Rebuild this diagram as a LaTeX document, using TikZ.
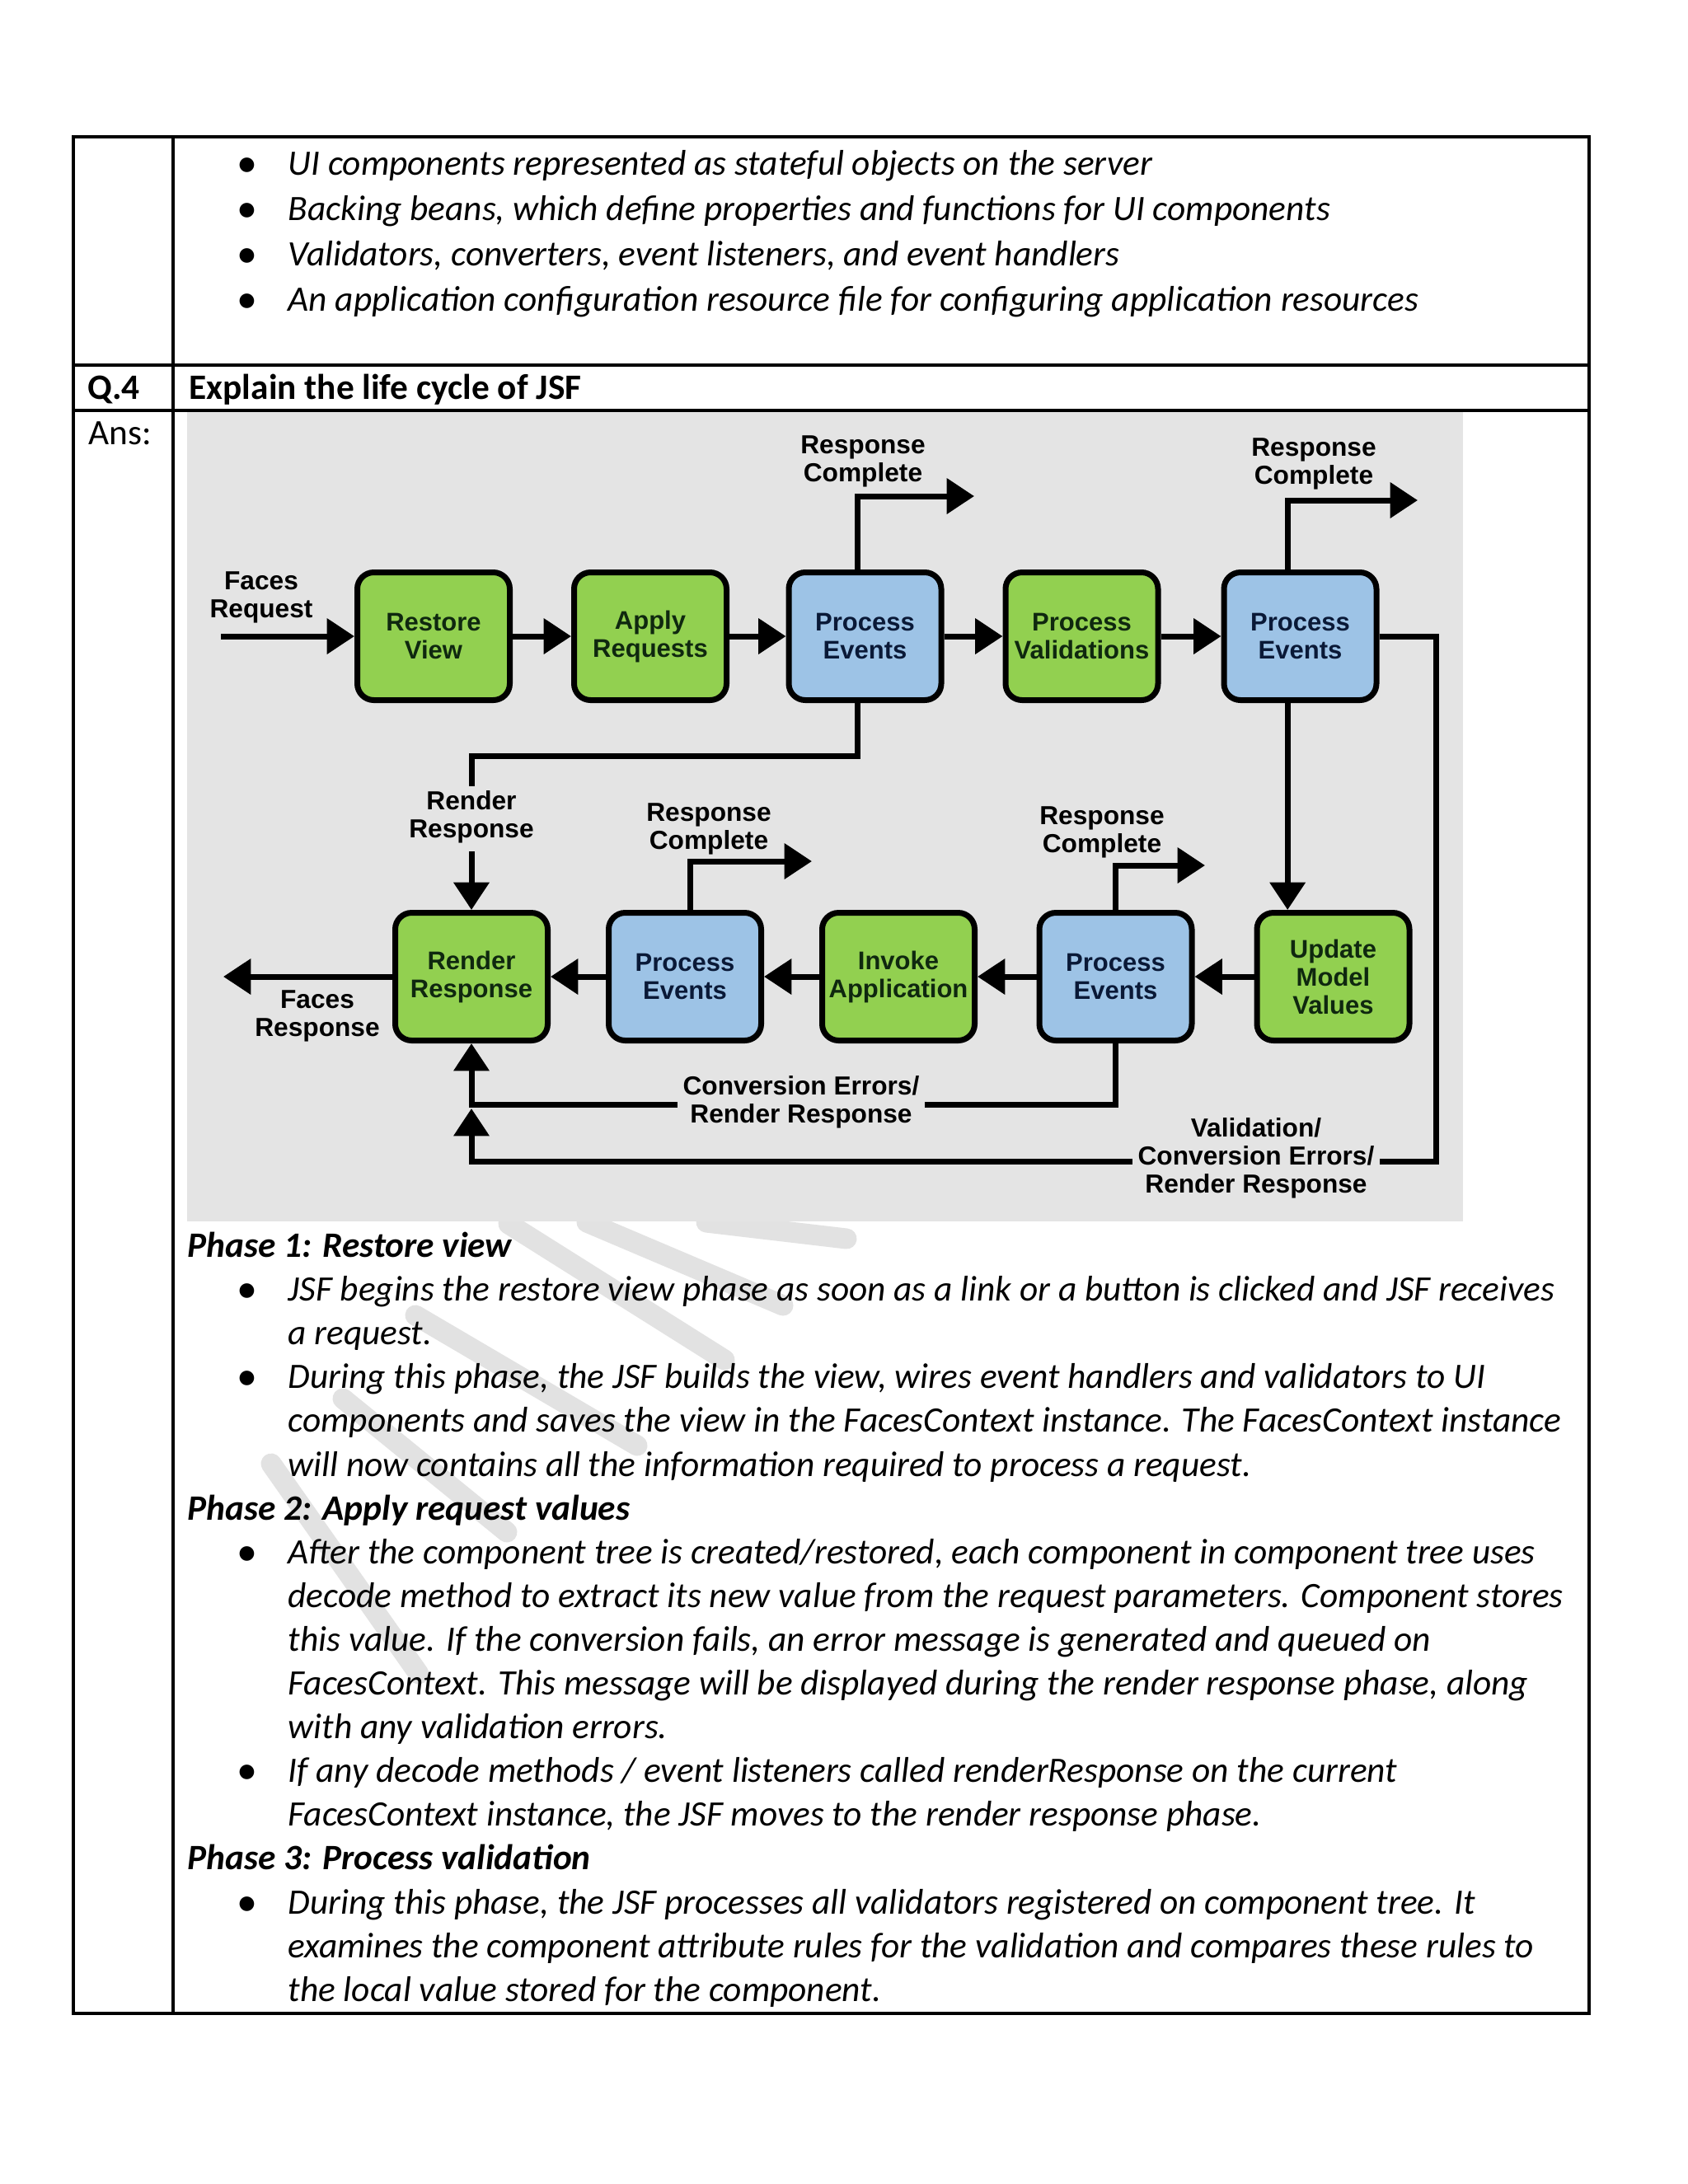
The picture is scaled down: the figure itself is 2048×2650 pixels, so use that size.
\documentclass[tikz,border=0pt]{standalone}
\usepackage{fontspec}
\setmainfont{Carlito}
\newfontfamily\arialf{Liberation Sans}
\usetikzlibrary{arrows.meta}
\definecolor{bggray}{RGB}{228,228,228}
\definecolor{boxgreen}{RGB}{146,208,80}
\definecolor{boxblue}{RGB}{157,195,230}
\definecolor{txtgreen}{RGB}{15,40,15}
\definecolor{txtblue}{RGB}{10,25,55}
\definecolor{wmgray}{RGB}{226,226,226}
\tikzset{
  phasebox/.style={draw=black, line width=2.1pt, rounded corners=6pt, minimum width=55.5pt, minimum height=46.5pt, inner sep=0pt, align=center, font=\arialf\bfseries\fontsize{9.3}{10.2}\selectfont},
  gphase/.style={phasebox, fill=boxgreen, text=txtgreen},
  bphase/.style={phasebox, fill=boxblue, text=txtblue},
  lbl/.style={align=center, inner sep=2pt, font=\arialf\bfseries\fontsize{9.5}{10.2}\selectfont},
  conn/.style={line width=2.1pt},
  arr/.style={conn, -{Triangle[length=10pt,width=12.6pt]}},
  bodyline/.style={anchor=mid west, inner sep=0pt, font=\fontsize{13}{15}\selectfont\itshape},
  headline/.style={anchor=mid west, inner sep=0pt, font=\fontsize{13}{15}\selectfont\bfseries\itshape},
  plainline/.style={anchor=mid west, inner sep=0pt, font=\fontsize{13}{15}\selectfont},
  boldline/.style={anchor=mid west, inner sep=0pt, font=\fontsize{13}{15}\selectfont\bfseries},
  bul/.style={inner sep=0pt, font=\fontsize{15}{15}\selectfont},
  tablerule/.style={line width=1pt},
  wm/.style={draw=wmgray, line width=7.5pt, line cap=round}
}
\begin{document}
\begin{tikzpicture}[x=0.3pt,y=-0.3pt]
\useasboundingbox (0,0) rectangle (2048,2650);
\fill[white] (0,0) rectangle (2048,2650);

% watermark strokes
\draw[wm] (617,1485) -- (879,1650);
\draw[wm] (712,1483) -- (950,1584);
\draw[wm] (857,1483) -- (1027,1503);
\draw[wm] (504,1596) -- (773,1754);
\draw[wm] (416,1697) -- (615,1859);
\draw[wm] (329,1776) -- (508,2031);

% table
\draw[tablerule] (89,166) rectangle (1928,2443);
\draw[tablerule] (210,166) -- (210,2443);
\draw[tablerule] (89,443) -- (1928,443);
\draw[tablerule] (89,498) -- (1928,498);

% row 1 bullets
\node[bul] (b1) at (300,203) {•};
\node[bodyline] (r1) at (349,205) {UI components represented as stateful objects on the server};
\node[bul] (b2) at (300,258) {•};
\node[bodyline] (r2) at (349,260) {Backing beans, which define properties and functions for UI components};
\node[bul] (b3) at (300,313) {•};
\node[bodyline] (r3) at (349,315) {Validators, converters, event listeners, and event handlers};
\node[bul] (b4) at (300,368) {•};
\node[bodyline] (r4) at (349,370) {An application configuration resource file for configuring application resources};

\node[boldline] (q4) at (106,477) {Q.4};
\node[boldline] (qt) at (229,477) {Explain the life cycle of JSF};
\node[plainline] (ans) at (107,532) {Ans:};

% diagram background
\fill[bggray] (227,500) rectangle (1775,1482);

% top row
\node[gphase] (RV) at (526,772) {Restore\\View};
\node[gphase] (AR) at (789,772) {Apply\\Requests};
\node[bphase] (PE1) at (1049.5,772) {Process\\Events};
\node[gphase] (PV) at (1312.5,772) {Process\\Validations};
\node[bphase] (PE2) at (1577.5,772) {Process\\Events};
% bottom row
\node[gphase] (RR) at (572,1185) {Render\\Response};
\node[bphase] (PEb1) at (831,1185) {Process\\Events};
\node[gphase] (IA) at (1090,1185) {Invoke\\Application};
\node[bphase] (PEb2) at (1353.5,1185) {Process\\Events};
\node[gphase] (UMV) at (1617.5,1185) {Update\\Model\\Values};

% labels
\node[lbl] (frl) at (317,725) {Faces\\Request};
\node[lbl] (rc1l) at (1047,560) {Response\\Complete};
\node[lbl] (rc2l) at (1594,563) {Response\\Complete};
\node[lbl] (rrl) at (572,991) {Render\\Response};
\node[lbl] (rc3l) at (860,1006) {Response\\Complete};
\node[lbl] (rc4l) at (1337,1010) {Response\\Complete};
\node[lbl] (fol) at (385,1233) {Faces\\Response};

% coordinates
\coordinate (frs) at (268,772);
\coordinate (rc1) at (1182,602);
\coordinate (rc2) at (1720,607);
\coordinate (j1) at (572,917);
\coordinate (j2) at (572,954);
\coordinate (j3) at (572,1033);
\coordinate (rc3) at (985,1045);
\coordinate (rc4) at (1462,1050);
\coordinate (fro) at (271,1185);
\coordinate (p2s) at ([xshift=-4.6pt]PE2.south);
\coordinate (rl1) at (1742,1409);
\coordinate (rl2) at (572,1409);
\coordinate (rl3) at (572,1345);
\coordinate (cv2) at (572,1340);

% top connectors
\draw[arr] (frs) -- (RV.west);
\draw[arr] (RV) -- (AR);
\draw[arr] (AR) -- (PE1);
\draw[arr] (PE1) -- (PV);
\draw[arr] (PV) -- (PE2);
\draw[arr] ([xshift=-2.8pt]PE1.north) |- (rc1);
\draw[arr] ([xshift=-4.6pt]PE2.north) |- (rc2);
\draw[conn] ([xshift=-2.8pt]PE1.south) |- (j1) -- (j2);
\draw[arr] (j3) -- (RR.north);
\draw[arr] (p2s) -- (p2s |- UMV.north);

% bottom connectors
\draw[arr] (UMV) -- (PEb2);
\draw[arr] (PEb2) -- (IA);
\draw[arr] (IA) -- (PEb1);
\draw[arr] (PEb1) -- (RR);
\draw[arr] (RR) -- (fro);
\draw[arr] ([xshift=1.8pt]PEb1.north) |- (rc3);
\draw[arr] (PEb2.north) |- (rc4);

% loops
\draw[arr] (PE2.east) -| (rl1) -- (rl2) -- (rl3);
\draw[arr] (PEb2.south) |- (cv2) -- (RR.south);
\node[lbl, fill=bggray] (cvl) at (972,1337) {Conversion Errors/\\Render Response};
\node[lbl, fill=bggray] (vl) at (1524,1405) {Validation/\\Conversion Errors/\\Render Response};

% phase text
\node[headline] (p1) at (227,1518) {Phase 1: Restore view};
\node[bul] (c1) at (300,1569) {•};
\node[bodyline] (l1) at (349,1571) {JSF begins the restore view phase as soon as a link or a button is clicked and JSF receives};
\node[bodyline] (l2) at (349,1624) {a request.};
\node[bul] (c2) at (300,1675) {•};
\node[bodyline] (l3) at (349,1677) {During this phase, the JSF builds the view, wires event handlers and validators to UI};
\node[bodyline] (l4) at (349,1730) {components and saves the view in the FacesContext instance. The FacesContext instance};
\node[bodyline] (l5) at (349,1784) {will now contains all the information required to process a request.};
\node[headline] (p2) at (227,1837) {Phase 2: Apply request values};
\node[bul] (c3) at (300,1888) {•};
\node[bodyline] (l6) at (349,1890) {After the component tree is created/restored, each component in component tree uses};
\node[bodyline] (l7) at (349,1943) {decode method to extract its new value from the request parameters. Component stores};
\node[bodyline] (l8) at (349,1996) {this value. If the conversion fails, an error message is generated and queued on};
\node[bodyline] (l9) at (349,2049) {FacesContext. This message will be displayed during the render response phase, along};
\node[bodyline] (l10) at (349,2102) {with any validation errors.};
\node[bul] (c4) at (300,2153) {•};
\node[bodyline] (l11) at (349,2155) {If any decode methods / event listeners called renderResponse on the current};
\node[bodyline] (l12) at (349,2208) {FacesContext instance, the JSF moves to the render response phase.};
\node[headline] (p3) at (227,2261) {Phase 3: Process validation};
\node[bul] (c5) at (300,2313) {•};
\node[bodyline] (l13) at (349,2315) {During this phase, the JSF processes all validators registered on component tree. It};
\node[bodyline] (l14) at (349,2368) {examines the component attribute rules for the validation and compares these rules to};
\node[bodyline] (l15) at (349,2421) {the local value stored for the component.};
\end{tikzpicture}
\end{document}
